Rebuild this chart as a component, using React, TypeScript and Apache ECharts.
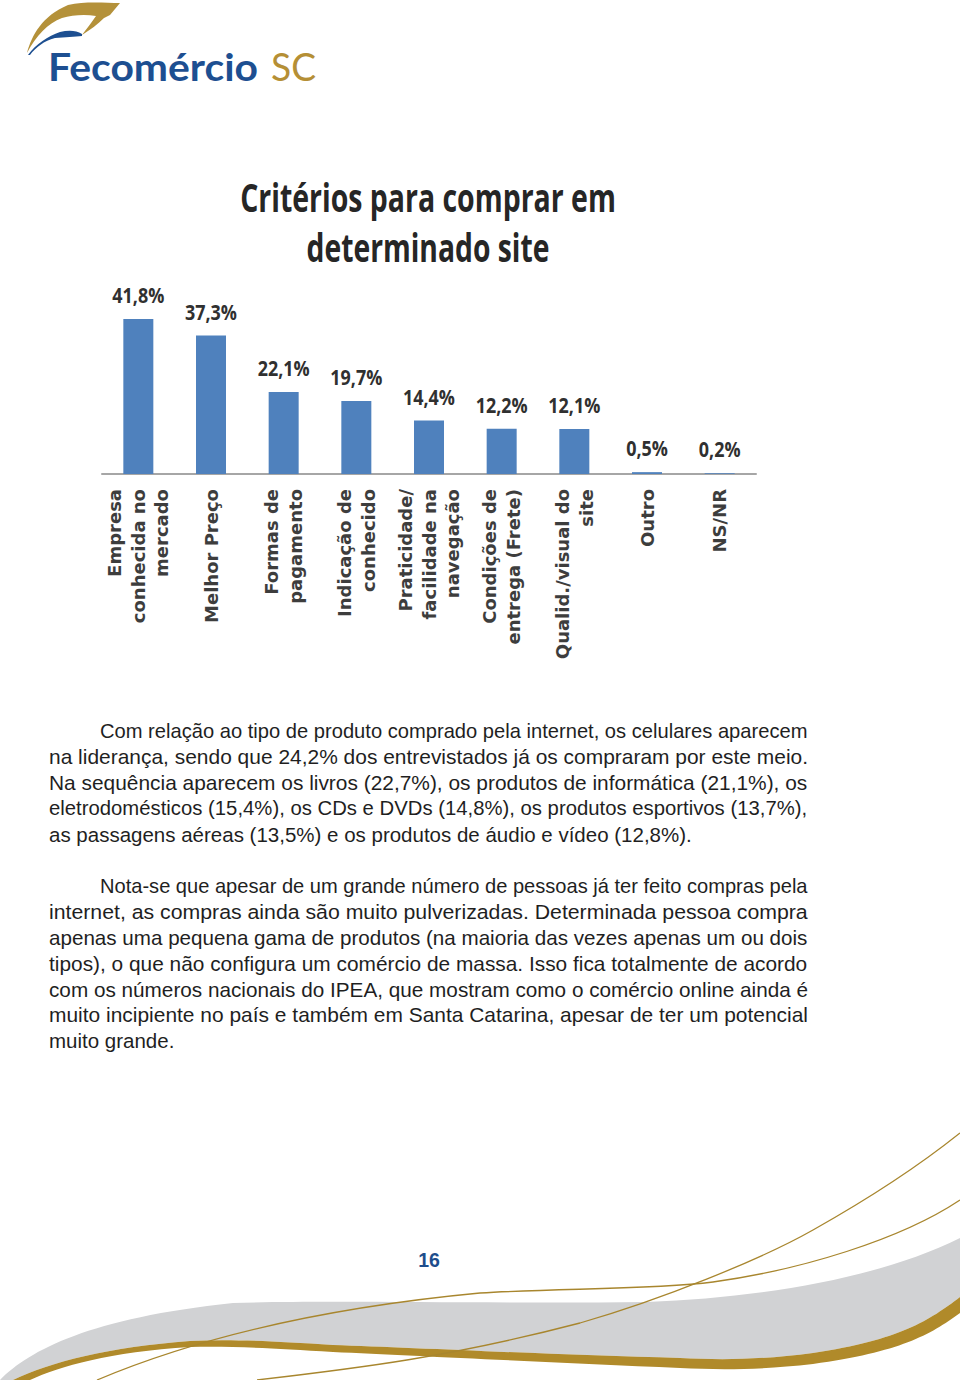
import React, { useEffect, useRef } from "react";
import * as echarts from "echarts";

const categories = [
  "Empresa\nconhecida no\nmercado",
  "Melhor Preço",
  "Formas de\npagamento",
  "Indicação de\nconhecido",
  "Praticidade/\nfacilidade na\nnavegação",
  "Condições de\nentrega (Frete)",
  "Qualid./visual do\nsite",
  "Outro",
  "NS/NR",
];
const values = [41.8, 37.3, 22.1, 19.7, 14.4, 12.2, 12.1, 0.5, 0.2];

const titleLines = ["Critérios para comprar em", "determinado site"];

const paragraph1 = [
  "Com relação ao tipo de produto comprado pela internet, os celulares aparecem",
  "na liderança, sendo que 24,2% dos entrevistados já os compraram por este meio.",
  "Na sequência aparecem os livros (22,7%), os produtos de informática (21,1%), os",
  "eletrodomésticos (15,4%), os CDs e DVDs (14,8%), os produtos esportivos (13,7%),",
  "as passagens aéreas (13,5%) e os produtos de áudio e vídeo (12,8%).",
];
const paragraph2 = [
  "Nota-se que apesar de um grande número de pessoas já ter feito compras pela",
  "internet, as compras ainda são muito pulverizadas. Determinada pessoa compra",
  "apenas uma pequena gama de produtos (na maioria das vezes apenas um ou dois",
  "tipos), o que não configura um comércio de massa. Isso fica totalmente de acordo",
  "com os números nacionais do IPEA, que mostram como o comércio online ainda é",
  "muito incipiente no país e também em Santa Catarina, apesar de ter um potencial",
  "muito grande.",
];
const pageNumber = "16";
const brandName = "Fecomércio";
const brandRegion = "SC";

const GRAY_BAND =
  "M 0 1380 C 30 1350 90 1318 233 1303 C 330 1300 500 1304 647 1302 C 760 1298 880 1278 960 1238 L 960 1297 C 930 1320 900 1340 813 1353 C 760 1360 720 1360 680 1358 C 560 1355 420 1348 333 1345 C 270 1341 230 1339 190 1341 C 110 1347 50 1362 13 1380 Z";
const GOLD_BAND =
  "M 13 1380 C 50 1362 110 1347 190 1341 C 230 1339 270 1341 333 1345 C 420 1348 560 1355 680 1358 C 720 1360 760 1360 813 1353 C 900 1340 930 1320 960 1297 L 960 1313 C 930 1335 900 1352 813 1364 C 760 1370 720 1370 680 1368 C 560 1363 420 1356 333 1352 C 270 1348 230 1346 190 1347 C 110 1352 60 1366 30 1380 Z";
const LINE_A =
  "M 97 1380 C 180 1345 300 1310 480 1293 C 560 1288 650 1290 713 1282 C 800 1270 900 1240 960 1200";
const LINE_B =
  "M 257 1380 C 360 1368 450 1357 580 1323 C 660 1300 760 1260 813 1230 C 870 1198 920 1165 960 1133";
const LOGO_GOLD =
  "M 120 3 L 110 15 L 104 18 C 98 24 90 30 82 35 C 87 28 92 22 96 16 C 85 14 72 15 62 18 C 48 23 36 36 27 53 C 32 35 42 16 68 5 C 85 1 105 3 120 3 Z";
const LOGO_BLUE =
  "M 28 55 C 36 44 48 36 60 32 C 68 30 76 30 82 34 L 82 36 C 75 37 65 37 55 38 C 44 41 36 47 30 55 Z";

function measure(text: string, font: string): number {
  const c = document.createElement("canvas").getContext("2d");
  if (!c) return 1;
  c.font = font;
  return c.measureText(text).width || 1;
}

const fmtPct = (v: number) => v.toFixed(1).replace(".", ",") + "%";

export default function App() {
  const ref = useRef<HTMLDivElement>(null);
  useEffect(() => {
    const el = ref.current;
    if (!el) return;
    echarts.graphic.registerShape("grayBand", echarts.graphic.extendPath(GRAY_BAND, {}));
    echarts.graphic.registerShape("goldBand", echarts.graphic.extendPath(GOLD_BAND, {}));
    echarts.graphic.registerShape("lineA", echarts.graphic.extendPath(LINE_A, {}));
    echarts.graphic.registerShape("lineB", echarts.graphic.extendPath(LINE_B, {}));
    echarts.graphic.registerShape("logoGold", echarts.graphic.extendPath(LOGO_GOLD, {}));
    echarts.graphic.registerShape("logoBlue", echarts.graphic.extendPath(LOGO_BLUE, {}));

    const chart = echarts.init(el, null, { renderer: "svg" });

    const bodySize = 20.5;
    const bodyFamily = "'Liberation Sans', Arial, sans-serif";
    const bodyFont = `${bodySize}px ${bodyFamily}`;
    const rightEdge = 808;
    const textEls: any[] = [];
    const addParagraph = (lines: string[], yStart: number) => {
      lines.forEach((line, i) => {
        const x = i === 0 ? 100 : 49;
        const last = i === lines.length - 1;
        const w = measure(line, bodyFont);
        const s = last ? 1 : (rightEdge - x) / w;
        textEls.push({
          type: "text",
          x,
          y: yStart + i * 25.8,
          scaleX: s,
          silent: true,
          style: {
            text: line,
            fontSize: bodySize,
            fontFamily: bodyFamily,
            fill: "#1f1f1f",
            align: "left",
            verticalAlign: "middle",
          },
        });
      });
    };
    addParagraph(paragraph1, 731);
    addParagraph(paragraph2, 886);

    const titleFamily = "'Open Sans', sans-serif";
    const titleSize = 39;
    const titleTargets = [376, 243];
    const titleYs = [197, 247];
    const titleEls = titleLines.map((t, i) => ({
      type: "text",
      x: 428,
      y: titleYs[i],
      scaleX: titleTargets[i] / measure(t, `bold ${titleSize}px ${titleFamily}`),
      silent: true,
      style: {
        text: t,
        fontSize: titleSize,
        fontWeight: "bold",
        fontFamily: titleFamily,
        fill: "#262626",
        align: "center",
        verticalAlign: "middle",
      },
    }));

    const labelFamily = "'Open Sans', sans-serif";
    const labelSize = 22;
    const labelScale = 52 / measure(fmtPct(values[0]), `bold ${labelSize}px ${labelFamily}`);

    const brandFamily = "Lato, 'Open Sans', sans-serif";
    const brandSize = 38;
    const brandScale = 210 / measure(brandName, `bold ${brandSize}px ${brandFamily}`);
    const scScale = 45 / measure(brandRegion, `${brandSize}px ${brandFamily}`);

    chart.setOption({
      animation: false,
      backgroundColor: "#ffffff",
      grid: { left: 102, right: 204, top: 307, bottom: 906, containLabel: false },
      xAxis: {
        type: "category",
        data: categories,
        axisTick: { show: false },
        axisLine: { show: true, lineStyle: { color: "#a6a6a6", width: 2 } },
        axisLabel: {
          interval: 0,
          rotate: 90,
          margin: 15,
          fontFamily: "'DejaVu Sans', sans-serif",
          fontWeight: "bold",
          fontSize: 18,
          lineHeight: 23.5,
          color: "#3d3d3d",
        },
      },
      yAxis: { type: "value", min: 0, max: 45, show: false, splitLine: { show: false } },
      series: [
        {
          type: "bar",
          data: values,
          barWidth: 30,
          itemStyle: { color: "#4f81bd" },
        },
        {
          type: "custom",
          data: values.map((v, i) => [i, v]),
          z: 5,
          renderItem: (params: any, api: any) => {
            const v = api.value(1);
            const pt = api.coord([api.value(0), v]);
            return {
              type: "text",
              x: pt[0],
              y: pt[1] - 13,
              scaleX: labelScale,
              style: {
                text: fmtPct(v),
                fontFamily: labelFamily,
                fontWeight: "bold",
                fontSize: labelSize,
                fill: "#303030",
                align: "center",
                verticalAlign: "bottom",
              },
            };
          },
        },
      ],
      graphic: [
        { type: "grayBand", silent: true, style: { fill: "#d1d2d4" } },
        { type: "goldBand", silent: true, style: { fill: "#b08a2a" } },
        { type: "lineA", silent: true, style: { fill: "none", stroke: "#a8862e", lineWidth: 1.3 } },
        { type: "lineB", silent: true, style: { fill: "none", stroke: "#a8862e", lineWidth: 1.3 } },
        { type: "logoGold", silent: true, style: { fill: "#b4913a" } },
        { type: "logoBlue", silent: true, style: { fill: "#1d4f91" } },
        {
          type: "text",
          x: 48,
          y: 66,
          scaleX: brandScale,
          silent: true,
          style: {
            text: brandName,
            fontSize: brandSize,
            fontWeight: "bold",
            fontFamily: brandFamily,
            fill: "#1d4f91",
            align: "left",
            verticalAlign: "middle",
          },
        },
        {
          type: "text",
          x: 271,
          y: 66,
          scaleX: scScale,
          silent: true,
          style: {
            text: brandRegion,
            fontSize: brandSize,
            fontFamily: brandFamily,
            fill: "#b58f35",
            align: "left",
            verticalAlign: "middle",
          },
        },
        ...titleEls,
        ...textEls,
        {
          type: "text",
          x: 429,
          y: 1260,
          silent: true,
          style: {
            text: pageNumber,
            fontSize: 19.5,
            fontWeight: "bold",
            fontFamily: "'Liberation Sans', Arial, sans-serif",
            fill: "#1e4d8c",
            align: "center",
            verticalAlign: "middle",
          },
        },
      ],
    });
    return () => chart.dispose();
  }, []);
  return (
    <div
      ref={ref}
      style={{ position: "absolute", left: 0, top: 0, width: 960, height: 1380, background: "#fff" }}
    />
  );
}
